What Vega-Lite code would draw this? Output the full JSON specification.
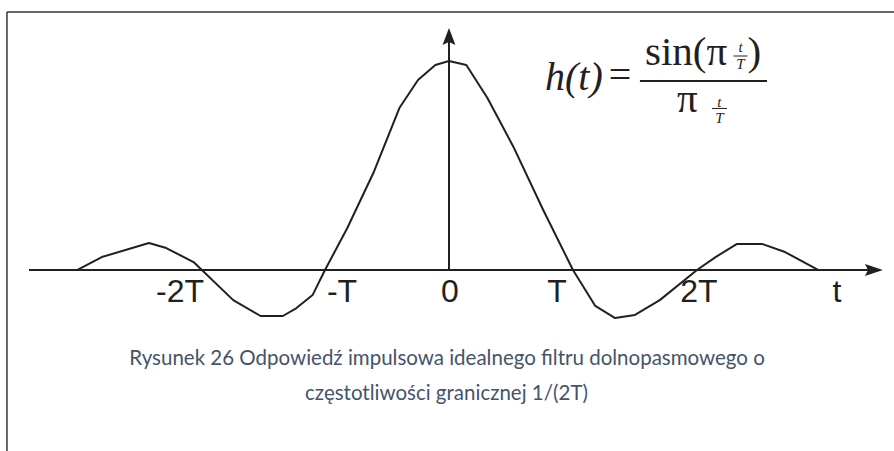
{
  "$schema": "https://vega.github.io/schema/vega-lite/v6.json",
  "width": 894,
  "height": 451,
  "padding": 0,
  "autosize": {"type": "none"},
  "background": "white",
  "config": {"view": {"stroke": null}},
  "datasets": {
    "curve": [
      {"t": -3.0, "h": 0.0},
      {"t": -2.8, "h": 0.062},
      {"t": -2.42, "h": 0.129},
      {"t": -2.28, "h": 0.105},
      {"t": -2.06, "h": 0.038},
      {"t": -1.74, "h": -0.144},
      {"t": -1.52, "h": -0.22},
      {"t": -1.34, "h": -0.22},
      {"t": -1.23, "h": -0.182},
      {"t": -1.1, "h": -0.12},
      {"t": -1.0, "h": 0.0},
      {"t": -0.82, "h": 0.201},
      {"t": -0.61, "h": 0.464},
      {"t": -0.4, "h": 0.775},
      {"t": -0.25, "h": 0.909},
      {"t": -0.11, "h": 0.981},
      {"t": 0.0, "h": 1.0},
      {"t": 0.14, "h": 0.981},
      {"t": 0.31, "h": 0.823},
      {"t": 0.52, "h": 0.589},
      {"t": 0.76, "h": 0.287},
      {"t": 1.0, "h": 0.0},
      {"t": 1.18, "h": -0.172},
      {"t": 1.34, "h": -0.23},
      {"t": 1.5, "h": -0.215},
      {"t": 1.7, "h": -0.144},
      {"t": 2.0, "h": 0.0},
      {"t": 2.15, "h": 0.062},
      {"t": 2.32, "h": 0.124},
      {"t": 2.53, "h": 0.124},
      {"t": 2.71, "h": 0.086},
      {"t": 2.98, "h": 0.0}
    ],
    "frame": [
      {"t1": -3.565, "t2": 3.589, "h1": 1.234, "h2": 1.234},
      {"t1": -3.565, "t2": -3.565, "h1": 1.234, "h2": -0.866}
    ],
    "axes": [
      {"t1": -3.387, "t2": 3.43, "h1": 0.0, "h2": 0.0},
      {"t1": 0.0, "t2": 0.0, "h1": 0.0, "h2": 1.1}
    ],
    "arrowT": [{"t": 3.427, "h": 0.0}],
    "arrowH": [{"t": 0.0, "h": 1.117}],
    "ticks": [
      {"label": "-2T", "t": -2.169, "h": -0.155},
      {"label": "-T", "t": -0.863, "h": -0.155},
      {"label": "0", "t": 0.008, "h": -0.155},
      {"label": "T", "t": 0.871, "h": -0.155},
      {"label": "2T", "t": 2.016, "h": -0.155},
      {"label": "t", "t": 3.129, "h": -0.155}
    ],
    "formulaItalic": [
      {"text": "h(t)", "t": 0.774, "h": 0.861}
    ],
    "formulaUpright": [
      {"text": "=", "t": 1.379, "h": 0.871, "align": "center"},
      {"text": "sin(π", "t": 1.581, "h": 0.981, "align": "left"},
      {"text": ")", "t": 2.407, "h": 0.981, "align": "left"},
      {"text": "π", "t": 1.839, "h": 0.756, "align": "left"}
    ],
    "formulaSmall": [
      {"text": "t", "t": 2.351, "h": 1.041},
      {"text": "T", "t": 2.351, "h": 0.962},
      {"text": "t", "t": 2.181, "h": 0.782},
      {"text": "T", "t": 2.181, "h": 0.703}
    ],
    "bigBar": [{"t1": 1.54, "t2": 2.565, "h": 0.904}],
    "smallBars": [
      {"t1": 2.294, "t2": 2.407, "h": 1.024},
      {"t1": 2.121, "t2": 2.242, "h": 0.773}
    ],
    "caption": [
      {"text": "Rysunek 26 Odpowiedź impulsowa idealnego filtru dolnopasmowego o", "t": -0.016, "h": -0.4545},
      {"text": "częstotliwości granicznej 1/(2T)", "t": -0.02, "h": -0.622}
    ]
  },
  "layer": [
    {
      "data": {"name": "frame"},
      "mark": {"type": "rule", "stroke": "#333333", "strokeWidth": 1.5},
      "encoding": {
        "x": {"field": "t1", "type": "quantitative", "scale": {"domain": [-3.621, 3.589], "nice": false, "zero": false}, "axis": null},
        "x2": {"field": "t2"},
        "y": {"field": "h1", "type": "quantitative", "scale": {"domain": [-0.866, 1.292], "nice": false, "zero": false}, "axis": null},
        "y2": {"field": "h2"}
      }
    },
    {
      "data": {"name": "axes"},
      "mark": {"type": "rule", "stroke": "#231f20", "strokeWidth": 2},
      "encoding": {
        "x": {"field": "t1", "type": "quantitative"},
        "x2": {"field": "t2"},
        "y": {"field": "h1", "type": "quantitative"},
        "y2": {"field": "h2"}
      }
    },
    {
      "data": {"name": "arrowT"},
      "mark": {"type": "point", "shape": "M1,0L-1,-0.67L-0.65,0L-1,0.67Z", "size": 324, "filled": true, "fill": "#231f20", "strokeWidth": 0, "opacity": 1},
      "encoding": {
        "x": {"field": "t", "type": "quantitative"},
        "y": {"field": "h", "type": "quantitative"}
      }
    },
    {
      "data": {"name": "arrowH"},
      "mark": {"type": "point", "shape": "M0,-1L0.76,1L0,0.65L-0.76,1Z", "size": 289, "filled": true, "fill": "#231f20", "strokeWidth": 0, "opacity": 1},
      "encoding": {
        "x": {"field": "t", "type": "quantitative"},
        "y": {"field": "h", "type": "quantitative"}
      }
    },
    {
      "data": {"name": "curve"},
      "mark": {"type": "line", "stroke": "#231f20", "strokeWidth": 2, "strokeJoin": "round"},
      "encoding": {
        "x": {"field": "t", "type": "quantitative"},
        "y": {"field": "h", "type": "quantitative"}
      }
    },
    {
      "data": {"name": "ticks"},
      "mark": {"type": "text", "font": "Liberation Sans", "fontSize": 32, "fill": "#231f20", "align": "center", "baseline": "alphabetic"},
      "encoding": {
        "x": {"field": "t", "type": "quantitative"},
        "y": {"field": "h", "type": "quantitative"},
        "text": {"field": "label"}
      }
    },
    {
      "data": {"name": "formulaItalic"},
      "mark": {"type": "text", "font": "Liberation Serif", "fontStyle": "italic", "fontSize": 40, "fill": "#231f20", "align": "left", "baseline": "alphabetic"},
      "encoding": {
        "x": {"field": "t", "type": "quantitative"},
        "y": {"field": "h", "type": "quantitative"},
        "text": {"field": "text"}
      }
    },
    {
      "data": {"name": "formulaUpright"},
      "transform": [{"filter": "datum.align === 'center'"}],
      "mark": {"type": "text", "font": "Liberation Serif", "fontSize": 40, "fill": "#231f20", "align": "center", "baseline": "alphabetic"},
      "encoding": {
        "x": {"field": "t", "type": "quantitative"},
        "y": {"field": "h", "type": "quantitative"},
        "text": {"field": "text"}
      }
    },
    {
      "data": {"name": "formulaUpright"},
      "transform": [{"filter": "datum.align === 'left'"}],
      "mark": {"type": "text", "font": "Liberation Serif", "fontSize": 41, "fill": "#231f20", "align": "left", "baseline": "alphabetic"},
      "encoding": {
        "x": {"field": "t", "type": "quantitative"},
        "y": {"field": "h", "type": "quantitative"},
        "text": {"field": "text"}
      }
    },
    {
      "data": {"name": "formulaSmall"},
      "mark": {"type": "text", "font": "Liberation Serif", "fontStyle": "italic", "fontSize": 15, "fill": "#231f20", "align": "center", "baseline": "alphabetic"},
      "encoding": {
        "x": {"field": "t", "type": "quantitative"},
        "y": {"field": "h", "type": "quantitative"},
        "text": {"field": "text"}
      }
    },
    {
      "data": {"name": "bigBar"},
      "mark": {"type": "rule", "stroke": "#231f20", "strokeWidth": 2},
      "encoding": {
        "x": {"field": "t1", "type": "quantitative"},
        "x2": {"field": "t2"},
        "y": {"field": "h", "type": "quantitative"}
      }
    },
    {
      "data": {"name": "smallBars"},
      "mark": {"type": "rule", "stroke": "#231f20", "strokeWidth": 1},
      "encoding": {
        "x": {"field": "t1", "type": "quantitative"},
        "x2": {"field": "t2"},
        "y": {"field": "h", "type": "quantitative"}
      }
    },
    {
      "data": {"name": "caption"},
      "mark": {"type": "text", "font": "Lato", "fontSize": 20.5, "fill": "#44546a", "align": "center", "baseline": "alphabetic"},
      "encoding": {
        "x": {"field": "t", "type": "quantitative"},
        "y": {"field": "h", "type": "quantitative"},
        "text": {"field": "text"}
      }
    }
  ]
}
